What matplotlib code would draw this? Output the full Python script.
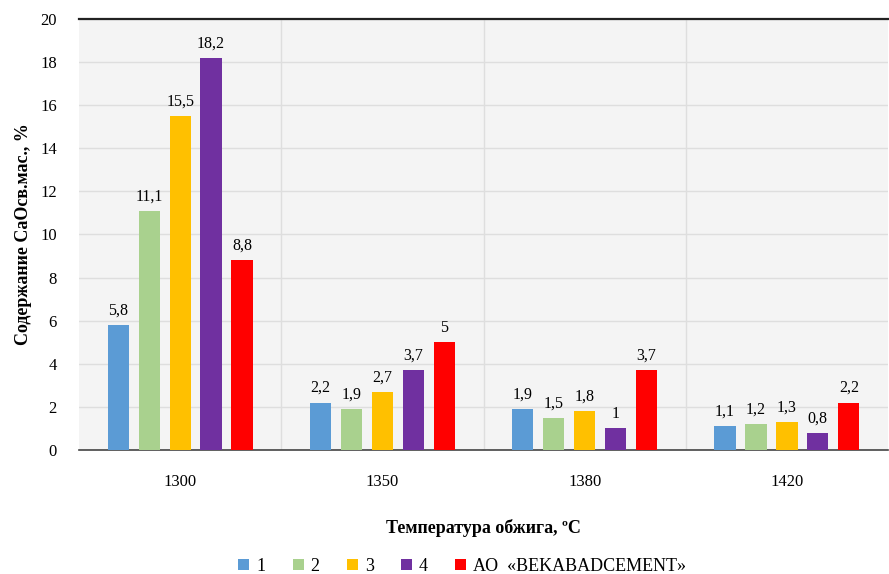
import numpy as np
import matplotlib.pyplot as plt

plt.rcParams['font.family'] = ['Liberation Serif', 'DejaVu Serif']

temps = ["1300", "1350", "1380", "1420"]
series = ["1", "2", "3", "4", "АО  «BEKABADCEMENT»"]
s1 = [5.8, 2.2, 1.9, 1.1]
s2 = [11.1, 1.9, 1.5, 1.2]
s3 = [15.5, 2.7, 1.8, 1.3]
s4 = [18.2, 3.7, 1.0, 0.8]
s5 = [8.8, 5.0, 3.7, 2.2]
colors = ["#5b9bd5", "#a9d18e", "#ffc000", "#7030a0", "#ff0000"]

fig = plt.figure(figsize=(8.89, 5.74), dpi=100)
ax = fig.add_axes([0.0889, 0.216, 0.91, 0.751])
ax.set_facecolor("#f4f4f4")

x = np.arange(len(temps))
w = 0.105
step = 0.153
for i, (vals, c) in enumerate(zip([s1, s2, s3, s4, s5], colors)):
    pos = x + (i - 2) * step
    bars = ax.bar(pos, vals, w, color=c, label=series[i], zorder=3)
    for b, v in zip(bars, vals):
        ax.text(b.get_x() + b.get_width() / 2, v + 0.3, f"{v:g}".replace(".", ","),
                ha="center", va="bottom", fontsize=11.5, zorder=4)

ax.set_xlim(-0.5, 3.5)
ax.set_ylim(0, 20)
ax.set_yticks(np.arange(0, 21, 2))
ax.set_xticks(x)
ax.set_xticklabels(temps)
ax.tick_params(axis="x", length=0, pad=17, labelsize=12)
ax.tick_params(axis="y", length=0, pad=16, labelsize=12)
ax.yaxis.grid(True, color="#dedede", lw=1, zorder=0)
for b in [0.5, 1.5, 2.5]:
    ax.axvline(b, color="#dedede", lw=1, zorder=0)
for s in ["left", "right"]:
    ax.spines[s].set_visible(False)
ax.spines["top"].set_color("#222222")
ax.spines["top"].set_linewidth(1.6)
ax.spines["bottom"].set_color("#444444")
ax.spines["bottom"].set_linewidth(1.2)

ax.set_ylabel("Содержание CaOсв.мас., %", fontsize=13, fontweight="bold", labelpad=6)
ax.set_xlabel("Температура обжига, ºC", fontsize=13, fontweight="bold", labelpad=21)

fig.legend(loc="lower center", bbox_to_anchor=(0.52, -0.03), ncol=5, frameon=False,
           fontsize=13, handlelength=0.6, handleheight=0.6, handletextpad=0.4,
           columnspacing=1.5)

fig.savefig("out.png", dpi=100)
